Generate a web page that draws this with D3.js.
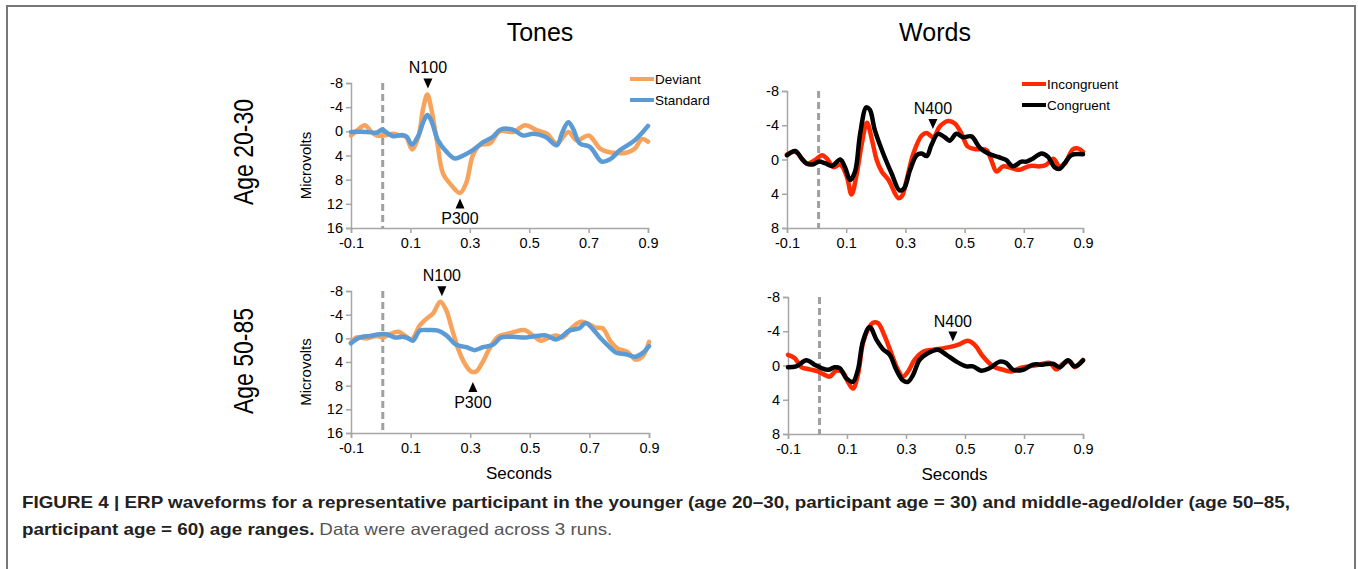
<!DOCTYPE html>
<html>
<head>
<meta charset="utf-8">
<script src="https://cdn.jsdelivr.net/npm/d3@7"></script>
<style>
    body { margin: 0; background: #fff; }
    svg { display: block; font-family: "Liberation Sans", Arial, Helvetica, sans-serif; }
</style>
</head>
<body>
<svg id="chart" width="1358" height="569"></svg>
<script>
    "use strict";

    // ERP waveforms, [seconds, microvolts] (negative plotted upward)
    const tonesYoungDeviant = [[-0.1, 0.7], [-0.078, -0.2], [-0.053, -1.0], [-0.03, 0.2], [-0.013, 0.7], [0.01, 0.7], [0.043, 0.4], [0.065, 0.7], [0.085, 0.9], [0.106, 3.0], [0.127, 0.9], [0.143, -3.8], [0.157, -6.1], [0.17, -3.8], [0.19, 1.8], [0.21, 7.0], [0.234, 8.7], [0.267, 10.2], [0.289, 8.4], [0.31, 4.0], [0.334, 2.3], [0.368, 2.0], [0.4, 0], [0.447, 0.1], [0.486, -1.0], [0.525, -0.2], [0.56, 0.4], [0.593, 2.0], [0.632, 0.1], [0.66, 1.5], [0.7, 0.7], [0.74, 2.9], [0.775, 3.5], [0.83, 3.5], [0.855, 2.9], [0.88, 1.3], [0.9, 1.7]];
    const tonesYoungStandard = [[-0.1, 0.1], [-0.047, 0.1], [-0.013, 0.2], [0.005, -0.3], [0.02, 0.2], [0.043, 0.8], [0.071, 0.6], [0.088, 0.9], [0.105, 2.2], [0.127, 0.7], [0.143, -1.5], [0.157, -2.7], [0.17, -1.8], [0.193, 1.5], [0.222, 3.4], [0.25, 4.5], [0.278, 4.0], [0.31, 3.1], [0.345, 1.8], [0.378, 0.9], [0.404, -0.3], [0.443, -0.3], [0.48, 0.7], [0.514, 0.4], [0.554, 0.9], [0.593, 2.3], [0.612, 0.1], [0.632, -1.5], [0.648, -0.4], [0.67, 2.0], [0.705, 2.6], [0.744, 5.0], [0.773, 4.6], [0.806, 3.1], [0.855, 1.5], [0.9, -0.9]];
    const wordsYoungIncongruent = [[-0.1, -0.6], [-0.072, -0.9], [-0.033, 0.45], [-0.005, 0.05], [0.018, -0.5], [0.035, -0.1], [0.057, 0.9], [0.08, 0.6], [0.102, 2.0], [0.118, 4.1], [0.136, 1.6], [0.153, -1.9], [0.17, -4.3], [0.187, -2.3], [0.203, 0.05], [0.22, 1.4], [0.243, 2.4], [0.276, 4.5], [0.288, 4.3], [0.304, 2.4], [0.327, -0.7], [0.355, -2.8], [0.372, -3.1], [0.394, -2.6], [0.417, -3.9], [0.445, -4.5], [0.467, -4.2], [0.49, -3.0], [0.511, -1.5], [0.54, -1.2], [0.574, -1.1], [0.59, 0.05], [0.608, 1.4], [0.63, 0.8], [0.658, 1.0], [0.686, 1.2], [0.72, 0.75], [0.754, 0.8], [0.776, 0.6], [0.8, -0.1], [0.82, 0.8], [0.838, 0.5], [0.866, -1.2], [0.883, -1.3], [0.9, -0.9]];
    const wordsYoungCongruent = [[-0.1, -0.5], [-0.072, -1.0], [-0.05, -0.1], [-0.033, 0.5], [-0.01, 0.55], [0.007, 0.25], [0.03, 0.45], [0.052, 0.75], [0.08, 0], [0.097, 1.0], [0.113, 2.4], [0.13, 1.4], [0.147, -3.0], [0.168, -6.1], [0.18, -5.8], [0.197, -3.4], [0.225, -0.7], [0.253, 1.6], [0.28, 3.6], [0.295, 3.4], [0.316, 1.2], [0.338, -0.5], [0.355, -0.7], [0.372, -0.4], [0.388, -1.7], [0.41, -3.0], [0.433, -2.6], [0.45, -2.2], [0.472, -3.0], [0.495, -2.6], [0.523, -2.7], [0.551, -1.4], [0.58, -0.7], [0.613, -0.3], [0.64, 0.05], [0.663, 0.8], [0.692, 0.25], [0.709, 0.25], [0.73, -0.1], [0.76, -0.7], [0.782, -0.3], [0.804, 0.9], [0.82, 1.1], [0.838, 0.45], [0.86, -0.5], [0.9, -0.6]];
    const tonesOlderDeviant = [[-0.1, 0.75], [-0.081, -0.15], [-0.047, 0], [-0.014, -0.4], [0.008, -0.15], [0.03, -0.7], [0.058, -1.1], [0.08, -0.5], [0.103, 0.2], [0.131, -2.2], [0.153, -3.3], [0.175, -4.2], [0.2, -6.2], [0.22, -4.7], [0.237, -1.9], [0.259, 1.7], [0.281, 4.2], [0.303, 5.6], [0.32, 5.6], [0.343, 3.9], [0.365, 1.7], [0.393, -0.25], [0.42, -0.7], [0.448, -1.1], [0.482, -1.4], [0.51, -0.5], [0.538, 0.4], [0.566, -0.15], [0.588, -0.5], [0.61, -0.15], [0.644, -1.9], [0.671, -2.8], [0.694, -2.5], [0.721, -1.8], [0.744, -1.7], [0.772, 0.6], [0.794, 1.7], [0.828, 2.3], [0.855, 3.6], [0.878, 3.1], [0.9, 0.6]];
    const tonesOlderStandard = [[-0.1, 0.85], [-0.07, -0.15], [-0.037, -0.4], [-0.003, -0.7], [0.019, -0.7], [0.047, -0.15], [0.075, -0.25], [0.092, 0], [0.108, 0.4], [0.131, -1.3], [0.159, -1.4], [0.192, -1.3], [0.22, -0.5], [0.253, 1.1], [0.287, 1.5], [0.315, 2.0], [0.343, 1.5], [0.376, 1.1], [0.404, -0.15], [0.443, -0.25], [0.488, -0.15], [0.521, -0.4], [0.554, -0.5], [0.588, 0.2], [0.61, -0.4], [0.632, -1.3], [0.666, -1.7], [0.688, -2.6], [0.716, -1.3], [0.738, 0], [0.766, 1.4], [0.789, 2.4], [0.822, 2.7], [0.855, 3.1], [0.878, 2.5], [0.9, 1.3]];
    const wordsOlderIncongruent = [[-0.1, -1.25], [-0.077, -0.85], [-0.055, 0.2], [-0.027, 0.45], [0.002, 0.7], [0.024, 1.1], [0.041, 1.3], [0.064, 0.6], [0.086, 0.8], [0.103, 1.9], [0.12, 2.7], [0.137, 1.1], [0.154, -2.6], [0.171, -4.2], [0.188, -5.0], [0.205, -4.95], [0.228, -3.4], [0.25, -1.45], [0.273, 0.5], [0.29, 1.3], [0.307, 0.7], [0.329, -0.65], [0.358, -1.6], [0.392, -1.85], [0.425, -2.0], [0.454, -2.2], [0.482, -2.5], [0.51, -2.9], [0.533, -2.4], [0.561, -1.05], [0.595, 0.1], [0.629, 0.5], [0.657, 0.7], [0.685, 0.3], [0.719, 0.1], [0.753, -0.1], [0.787, -0.3], [0.81, 0.45], [0.832, -0.2], [0.855, -0.5], [0.872, 0.2], [0.9, -0.65]];
    const wordsOlderCongruent = [[-0.1, 0.2], [-0.072, 0.1], [-0.038, -0.6], [-0.01, -0.1], [0.013, 0.3], [0.036, 0.5], [0.058, 0.2], [0.075, 0.3], [0.098, 1.5], [0.12, 1.9], [0.137, 0.5], [0.154, -2.8], [0.177, -4.5], [0.2, -3.0], [0.222, -1.9], [0.245, -1.25], [0.267, 0.5], [0.29, 1.75], [0.307, 1.9], [0.324, 1.1], [0.346, -0.65], [0.375, -1.45], [0.408, -1.85], [0.437, -1.25], [0.471, -0.45], [0.505, 0.1], [0.527, 0.1], [0.555, 0.6], [0.584, 0.3], [0.618, -0.45], [0.64, -0.3], [0.663, 0.5], [0.697, 0.5], [0.73, -0.1], [0.764, -0.1], [0.798, -0.2], [0.821, 0.2], [0.849, -0.6], [0.872, 0.1], [0.9, -0.6]];

    const xTicks = [-0.1, 0.1, 0.3, 0.5, 0.7, 0.9];
    const tonesYTicks = [-8, -4, 0, 4, 8, 12, 16];
    const wordsYTicks = [-8, -4, 0, 4, 8];
    const tonesNames = ["Deviant", "Standard"];
    const wordsNames = ["Incongruent", "Congruent"];
    const rowLabels = ["Age 20-30", "Age 50-85"];

    // peak markers: [label, seconds, microvolts at arrow tip, pointing down?]
    const tonesYoungPeaks = [["N100", 0.159, -7.1, true], ["P300", 0.267, 11.1, false]];
    const wordsYoungPeaks = [["N400", 0.393, -3.55, true]];
    const tonesOlderPeaks = [["N100", 0.205, -7.1, true], ["P300", 0.309, 7.4, false]];
    const wordsOlderPeaks = [["N400", 0.459, -2.8, true]];

    const tonesColors = ["#f7a35c", "#5b9bd5"];
    const wordsColors = ["#ff2a00", "#000000"];

    const svg = d3.select("#chart");

    // figure frame (open at the bottom)
    svg.append("path")
        .attr("d", "M7,569 V6 H1355 V569")
        .attr("fill", "none")
        .attr("stroke", "#777")
        .attr("stroke-width", 2);

    const panels = [
        { box: [351, 648, 83, 228], yTicks: tonesYTicks, series: [tonesYoungDeviant, tonesYoungStandard], names: tonesNames, colors: tonesColors, peaks: tonesYoungPeaks, legend: [630, 79], ylabel: true, xlabel: false },
        { box: [787, 1083, 91, 228], yTicks: wordsYTicks, series: [wordsYoungIncongruent, wordsYoungCongruent], names: wordsNames, colors: wordsColors, peaks: wordsYoungPeaks, legend: [1022, 84], ylabel: false, xlabel: false },
        { box: [351, 649, 291, 433], yTicks: tonesYTicks, series: [tonesOlderDeviant, tonesOlderStandard], names: null, colors: tonesColors, peaks: tonesOlderPeaks, legend: null, ylabel: true, xlabel: true },
        { box: [788, 1083, 297, 434], yTicks: wordsYTicks, series: [wordsOlderIncongruent, wordsOlderCongruent], names: null, colors: wordsColors, peaks: wordsOlderPeaks, legend: null, ylabel: false, xlabel: true }
    ];

    let drawPanel = (p) => {
        let [x0, x1, y0, y1] = p.box;
        let x = d3.scaleLinear().domain([-0.1, 0.9]).range([x0, x1]);
        let y = d3.scaleLinear().domain([p.yTicks[0], p.yTicks[p.yTicks.length - 1]]).range([y0, y1]);
        let g = svg.append("g");

        let xAxis = g.append("g")
            .attr("transform", `translate(0,${y1})`)
            .call(d3.axisBottom(x).tickValues(xTicks).tickSize(5).tickPadding(5));
        let yAxis = g.append("g")
            .attr("transform", `translate(${x0},0)`)
            .call(d3.axisLeft(y).tickValues(p.yTicks).tickSize(5).tickPadding(3));
        [xAxis, yAxis].forEach((a) => {
            a.select(".domain").attr("stroke", "#a6a6a6").attr("stroke-width", 1.5);
            a.selectAll(".tick line").attr("stroke", "#a6a6a6").attr("stroke-width", 1.5);
            a.selectAll(".tick text").attr("fill", "#000").style("font-size", "14.5px").style("font-family", "Liberation Sans, Arial, sans-serif");
        });
        xAxis.selectAll(".tick text").text((d) => d.toFixed(1));
        yAxis.selectAll(".tick text").text((d) => String(d));

        // stimulus onset
        g.append("line")
            .attr("x1", x(0) + 2).attr("x2", x(0) + 2)
            .attr("y1", y0).attr("y2", y1)
            .attr("stroke", "#a0a0a0")
            .attr("stroke-width", 3)
            .attr("stroke-dasharray", "7,4");

        let line = d3.line()
            .x((d) => x(d[0]))
            .y((d) => y(d[1]))
            .curve(d3.curveCatmullRom.alpha(0.5));

        p.series.forEach((s, i) => {
            g.append("path")
                .datum(s)
                .attr("d", line)
                .attr("fill", "none")
                .attr("stroke", p.colors[i])
                .attr("stroke-width", 4.5)
                .attr("stroke-linejoin", "round")
                .attr("stroke-linecap", "round");
        });

        p.peaks.forEach(([label, t, v, down]) => {
            let px = x(t), py = y(v);
            let base = down ? py - 10 : py + 10;
            g.append("path")
                .attr("d", `M${px},${py} L${px - 4.5},${base} L${px + 4.5},${base} Z`)
                .attr("fill", "#000");
            g.append("text")
                .attr("x", px)
                .attr("y", down ? py - 15 : py + 26)
                .attr("text-anchor", "middle")
                .style("font-size", "16px")
                .text(label);
        });

        if (p.legend) {
            let [lx, ly] = p.legend;
            p.names.forEach((n, i) => {
                let yy = ly + i * 21;
                g.append("line")
                    .attr("x1", lx).attr("x2", lx + 24)
                    .attr("y1", yy).attr("y2", yy)
                    .attr("stroke", p.colors[i])
                    .attr("stroke-width", 4);
                g.append("text")
                    .attr("x", lx + 25)
                    .attr("y", yy + 5)
                    .style("font-size", "13.5px")
                    .text(n);
            });
        }

        if (p.ylabel) {
            let cy = (y0 + y1) / 2 + 10;
            g.append("text")
                .attr("transform", `translate(${x0 - 40},${cy}) rotate(-90)`)
                .attr("text-anchor", "middle")
                .style("font-size", "15px")
                .text("Microvolts");
        }
        if (p.xlabel) {
            g.append("text")
                .attr("x", (x0 + x1) / 2 + 19)
                .attr("y", y1 + 46)
                .attr("text-anchor", "middle")
                .style("font-size", "17px")
                .text("Seconds");
        }
    };

    panels.forEach(drawPanel);

    // column titles
    [["Tones", 540], ["Words", 935]].forEach(([t, cx]) => {
        svg.append("text")
            .attr("x", cx).attr("y", 41)
            .attr("text-anchor", "middle")
            .style("font-size", "25px")
            .text(t);
    });

    // row labels
    rowLabels.forEach((t, i) => {
        let cy = i === 0 ? 152 : 361;
        svg.append("text")
            .attr("transform", `translate(253,${cy}) rotate(-90)`)
            .attr("text-anchor", "middle")
            .attr("textLength", 106)
            .attr("lengthAdjust", "spacingAndGlyphs")
            .style("font-size", "28px")
            .text(t);
    });

    // caption, squeezed to the condensed face of the original
    let caption = svg.append("g").style("font-size", "16.5px");
    let line1 = caption.append("text")
        .attr("x", 22).attr("y", 508)
        .style("font-weight", "bold")
        .attr("fill", "#222")
        .text("FIGURE 4 | ERP waveforms for a representative participant in the younger (age 20–30, participant age = 30) and middle-aged/older (age 50–85,");
    let squeeze = 1268 / line1.node().getComputedTextLength();
    line1.attr("textLength", 1268).attr("lengthAdjust", "spacingAndGlyphs");

    let bold2 = caption.append("text")
        .attr("x", 22).attr("y", 535)
        .style("font-weight", "bold")
        .attr("fill", "#222")
        .text("participant age = 60) age ranges.");
    let w2 = bold2.node().getComputedTextLength() * squeeze;
    bold2.attr("textLength", w2).attr("lengthAdjust", "spacingAndGlyphs");

    let reg2 = caption.append("text")
        .attr("x", 22 + w2 + 5).attr("y", 535)
        .attr("fill", "#555")
        .text("Data were averaged across 3 runs.");
    reg2.attr("textLength", reg2.node().getComputedTextLength() * squeeze).attr("lengthAdjust", "spacingAndGlyphs");
</script>
</body>
</html>
